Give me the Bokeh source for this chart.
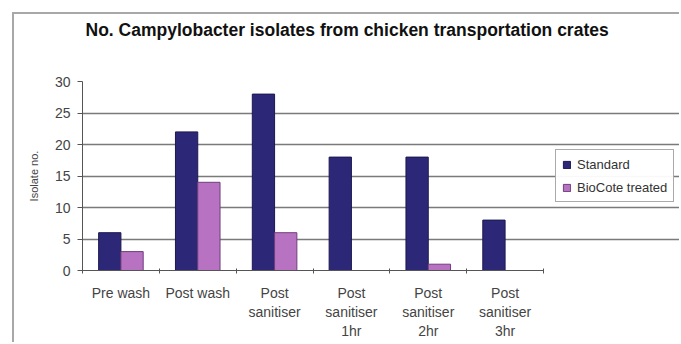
from bokeh.plotting import figure
from bokeh.models import Range1d, Legend, LegendItem, FixedTicker, ColumnDataSource, Title
from bokeh.transform import dodge
from bokeh.embed import file_html
from bokeh.resources import INLINE

categories = ["Pre wash", "Post wash", "Post\nsanitiser", "Post\nsanitiser\n1hr",
              "Post\nsanitiser\n2hr", "Post\nsanitiser\n3hr"]
standard = [6, 22, 28, 18, 18, 8]
biocote = [3, 14, 6, 0, 1, 0]
series_names = ["Standard", "BioCote treated"]
y_ticks = [0, 5, 10, 15, 20, 25, 30]
grid_ticks = [5, 10, 15, 20, 25]

title_text = "No. Campylobacter isolates from chicken transportation crates"
y_label = "Isolate no."

FONT = "Liberation Sans"

n = len(categories)
idx = list(range(n))
src = ColumnDataSource(dict(x=idx, standard=standard, biocote=biocote))

# layout (pixels)
FIG_W, FIG_H = 667, 330
LEFT, TOP, BOTTOM, RIGHT = 68, 67, 74, 0
plot_w = 461                      # width used by the 6 categories
frame_w = FIG_W - LEFT - RIGHT
x_end = -0.5 + n * frame_w / plot_w

p = figure(width=FIG_W, height=FIG_H, x_range=Range1d(-0.5, x_end),
           y_range=Range1d(0, 30), output_backend="svg", toolbar_location=None,
           min_border_left=LEFT, min_border_right=RIGHT, min_border_top=TOP,
           min_border_bottom=BOTTOM,
           background_fill_color="white", border_fill_color="white")
p.styles = {"margin-left": "12px", "margin-top": "12px",
            "border-left": "2px solid #a8a8a8", "border-top": "2px solid #a8a8a8"}
p.outline_line_color = None
p.title_location = None

# spacer between the title and the plot area (closest to the frame)
spacer = Title(text=" ", text_font_size="1px", standoff=39)
p.add_layout(spacer, "above")
main_title = Title(text=title_text, align="left", offset=3, standoff=0,
                   text_font=FONT, text_font_size="17.5px", text_font_style="bold",
                   text_color="#111111")
p.add_layout(main_title, "above")

r1 = p.vbar(x=dodge("x", -0.145), top="standard", width=0.29, source=src,
            fill_color="#2c2877", line_color="#1c1850", line_width=1)
r2 = p.vbar(x=dodge("x", 0.145), top="biocote", width=0.29, source=src,
            fill_color="#b872c2", line_color="#6e3f7c", line_width=1)

p.xgrid.grid_line_color = None
p.ygrid.ticker = FixedTicker(ticks=grid_ticks)
p.ygrid.grid_line_color = "#7a7a7a"
p.ygrid.grid_line_width = 1.6
p.ygrid.bounds = (-0.5, n - 0.5)

p.yaxis.ticker = FixedTicker(ticks=y_ticks)
p.yaxis.axis_label = y_label
p.yaxis.axis_label_text_font = FONT
p.yaxis.axis_label_text_font_size = "11px"
p.yaxis.axis_label_text_font_style = "normal"
p.yaxis.axis_label_text_color = "#444444"
p.yaxis.axis_label_standoff = 12
p.yaxis.major_label_text_font = FONT
p.yaxis.major_label_text_font_size = "14px"
p.yaxis.major_label_text_color = "#444444"
p.yaxis.major_label_standoff = 7
p.yaxis.axis_line_color = "#555555"
p.yaxis.major_tick_line_color = "#555555"
p.yaxis.major_tick_out = 5
p.yaxis.major_tick_in = 0
p.yaxis.minor_tick_line_color = None

p.xaxis.ticker = FixedTicker(ticks=idx, minor_ticks=[i - 0.5 for i in range(n + 1)])
p.xaxis.major_label_overrides = {i: c for i, c in zip(idx, categories)}
p.xaxis.bounds = (-0.5, n - 0.5)
p.xaxis.major_label_text_font = FONT
p.xaxis.major_label_text_font_size = "14px"
p.xaxis.major_label_text_color = "#444444"
p.xaxis.axis_line_color = "#555555"
p.xaxis.major_tick_line_color = None
p.xaxis.minor_tick_line_color = "#555555"
p.xaxis.minor_tick_out = 3
p.xaxis.minor_tick_in = 2
p.xaxis.major_label_standoff = 8

legend = Legend(items=[LegendItem(label=series_names[0], renderers=[r1]),
                       LegendItem(label=series_names[1], renderers=[r2])],
                location=(473, 68), margin=0, padding=6, spacing=7,
                glyph_width=9, glyph_height=9, label_height=16, label_standoff=6,
                label_text_font=FONT, label_text_font_size="13px", label_text_color="#333333",
                border_line_color="#555555", border_line_width=1.5)
p.add_layout(legend)

open("out.html", "w").write(file_html(p, INLINE))
